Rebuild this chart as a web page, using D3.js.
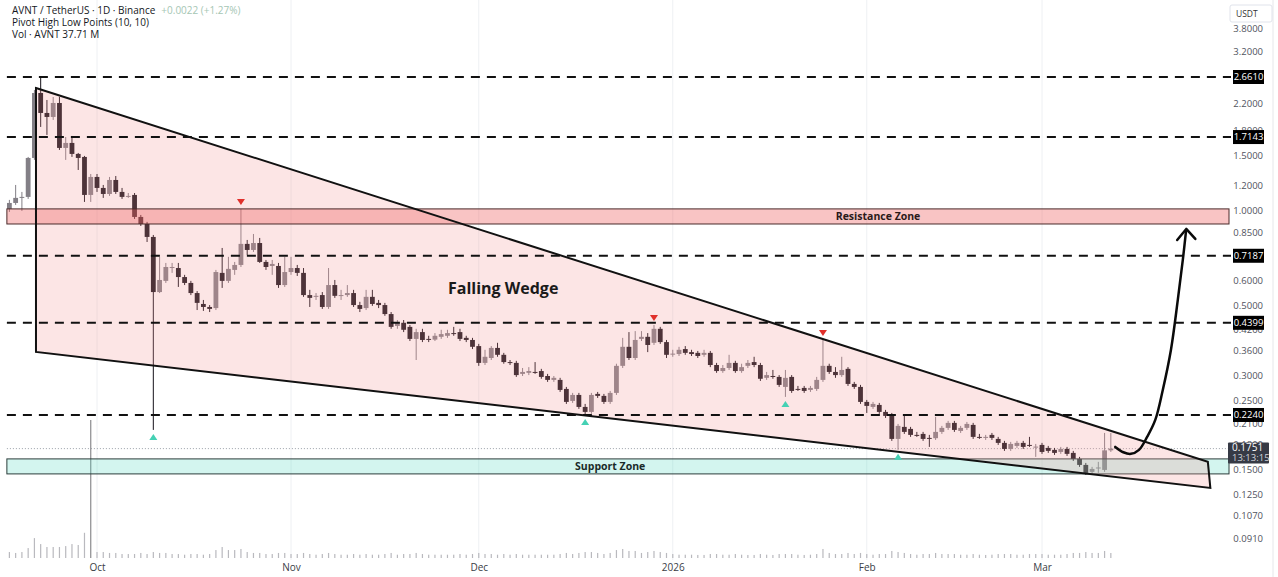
<!DOCTYPE html>
<html>
<head>
<meta charset="utf-8">
<script src="https://cdn.jsdelivr.net/npm/d3@7"></script>
<style>
  body { margin: 0; background: #fff; }
  svg { display: block; font-family: "Open Sans", "Noto Sans", sans-serif; }
</style>
</head>
<body>
<script>
var width = 1278,
    height = 577;

// daily candles, first one is 14 days before Oct 1 2025 (Sep 17)
var firstDay = -14;

var opens = [
  1.013, 1.058, 1.100, 1.106, 1.471, 2.367, 2.045, 1.986, 2.200, 1.583, 1.642, 1.515, 1.482, 1.122,
  1.280, 1.181, 1.130, 1.252, 1.147, 1.110, 1.122, 0.955, 0.907, 0.825,
  0.551, 0.598, 0.657, 0.657, 0.615, 0.589, 0.547, 0.505, 0.494, 0.490,
  0.634, 0.598, 0.648, 0.672, 0.784, 0.750, 0.789, 0.687, 0.667, 0.667,
  0.580, 0.638, 0.657, 0.634, 0.539, 0.532, 0.539, 0.494, 0.580, 0.536,
  0.539, 0.547, 0.501, 0.490, 0.532, 0.509, 0.501, 0.469, 0.430, 0.440,
  0.427, 0.391, 0.411, 0.391, 0.389, 0.397, 0.400, 0.408, 0.411, 0.394,
  0.388, 0.371, 0.328, 0.340, 0.366, 0.348, 0.330, 0.328, 0.3026, 0.305,
  0.307, 0.309, 0.298, 0.2896, 0.2896, 0.2711, 0.2483, 0.2594, 0.2376, 0.2291,
  0.2614, 0.2576, 0.2465, 0.2633, 0.321, 0.369, 0.340, 0.391, 0.397, 0.380,
  0.421, 0.382, 0.350, 0.350, 0.363, 0.355, 0.353, 0.348, 0.353, 0.323,
  0.309, 0.316, 0.328, 0.309, 0.321, 0.330, 0.323, 0.294, 0.298, 0.296,
  0.2751, 0.296, 0.2711, 0.2731, 0.2691, 0.2711, 0.2896, 0.321, 0.307, 0.300,
  0.314, 0.2812, 0.2751, 0.2465, 0.2376, 0.2411, 0.2291, 0.2241, 0.1880, 0.2053,
  0.2023, 0.1936, 0.1950, 0.1894, 0.1890, 0.1979, 0.2038, 0.2114, 0.1993, 0.2038,
  0.2083, 0.1908, 0.1894, 0.1936, 0.1880, 0.1826, 0.1747, 0.1786, 0.1826, 0.1799,
  0.1773, 0.1799, 0.1760, 0.1735, 0.1709, 0.1747, 0.1697, 0.1624, 0.1554, 0.1477,
  0.1520, 0.1498, 0.1729
];
var highs = [
  1.082, 1.207, 1.147, 1.482, 2.420, 2.661, 2.249, 2.299, 2.299, 1.715, 1.728, 1.526, 1.493, 1.308,
  1.308, 1.207, 1.280, 1.289, 1.181, 1.138, 1.138, 0.969, 0.921, 0.837,
  0.713, 0.682, 0.682, 0.682, 0.625, 0.598, 0.555, 0.520, 0.501, 0.648,
  0.761, 0.713, 0.687, 1.013, 0.807, 0.843, 0.819, 0.697, 0.697, 0.682,
  0.713, 0.713, 0.672, 0.657, 0.560, 0.547, 0.551, 0.657, 0.602, 0.560,
  0.580, 0.560, 0.513, 0.560, 0.560, 0.520, 0.509, 0.476, 0.449, 0.449,
  0.433, 0.421, 0.421, 0.400, 0.408, 0.418, 0.418, 0.427, 0.421, 0.400,
  0.394, 0.377, 0.361, 0.371, 0.380, 0.353, 0.335, 0.333, 0.316, 0.318,
  0.330, 0.314, 0.3026, 0.298, 0.294, 0.2751, 0.2633, 0.2633, 0.2429, 0.2633,
  0.2652, 0.2614, 0.2671, 0.326, 0.394, 0.411, 0.414, 0.414, 0.408, 0.433,
  0.427, 0.388, 0.361, 0.369, 0.371, 0.361, 0.358, 0.361, 0.358, 0.328,
  0.323, 0.348, 0.333, 0.326, 0.335, 0.343, 0.328, 0.307, 0.3115, 0.300,
  0.3115, 0.300, 0.2771, 0.2771, 0.2771, 0.296, 0.388, 0.326, 0.318, 0.343,
  0.318, 0.2854, 0.2792, 0.2501, 0.2465, 0.2447, 0.2325, 0.2274, 0.2098, 0.2241,
  0.2053, 0.1979, 0.1979, 0.1936, 0.2209, 0.2068, 0.2145, 0.2145, 0.2068, 0.2129,
  0.2114, 0.1950, 0.1936, 0.1964, 0.1908, 0.1853, 0.1839, 0.1853, 0.1853, 0.1908,
  0.1812, 0.1826, 0.1786, 0.1760, 0.1773, 0.1773, 0.1722, 0.1648, 0.1577, 0.1532,
  0.1589, 0.1964, 0.1964
];
var lows = [
  0.9905, 1.043, 0.998, 1.090, 1.450, 1.846, 1.741, 1.943, 1.560, 1.450, 1.482, 1.347, 1.066, 1.066,
  1.147, 1.098, 1.114, 1.130, 1.090, 1.098, 0.941, 0.894, 0.795, 0.2008,
  0.547, 0.589, 0.634, 0.572, 0.580, 0.539, 0.483, 0.480, 0.476, 0.483,
  0.568, 0.589, 0.625, 0.662, 0.723, 0.739, 0.682, 0.648, 0.625, 0.568,
  0.572, 0.625, 0.620, 0.532, 0.494, 0.520, 0.487, 0.487, 0.528, 0.520,
  0.532, 0.494, 0.476, 0.483, 0.498, 0.490, 0.463, 0.421, 0.421, 0.411,
  0.385, 0.335, 0.382, 0.382, 0.385, 0.391, 0.394, 0.400, 0.385, 0.382,
  0.363, 0.321, 0.323, 0.335, 0.343, 0.326, 0.323, 0.296, 0.298, 0.300,
  0.3026, 0.292, 0.2854, 0.2854, 0.2652, 0.2429, 0.2447, 0.2342, 0.2241, 0.2258,
  0.2538, 0.2429, 0.2429, 0.2594, 0.316, 0.335, 0.335, 0.385, 0.355, 0.374,
  0.377, 0.340, 0.343, 0.345, 0.348, 0.345, 0.340, 0.343, 0.318, 0.305,
  0.305, 0.3115, 0.305, 0.305, 0.316, 0.318, 0.2874, 0.2896, 0.292, 0.2751,
  0.2557, 0.2633, 0.2671, 0.2633, 0.2652, 0.2671, 0.2854, 0.3026, 0.294, 0.296,
  0.2771, 0.2711, 0.2429, 0.2274, 0.2342, 0.2258, 0.2192, 0.1853, 0.1735, 0.1950,
  0.1908, 0.1908, 0.1853, 0.1773, 0.1866, 0.1950, 0.2008, 0.1979, 0.1964, 0.2008,
  0.1880, 0.1880, 0.1866, 0.1866, 0.1799, 0.1722, 0.1722, 0.1760, 0.1747, 0.1773,
  0.1648, 0.1685, 0.1697, 0.1672, 0.1685, 0.1660, 0.1600, 0.1532, 0.1445, 0.1455,
  0.1466, 0.1477, 0.1709
];
var closes = [
  1.058, 1.098, 1.106, 1.471, 2.367, 2.045, 1.986, 2.200, 1.583, 1.642, 1.515, 1.471, 1.122, 1.280,
  1.181, 1.130, 1.252, 1.147, 1.106, 1.114, 0.955, 0.907, 0.825, 0.551,
  0.602, 0.662, 0.662, 0.615, 0.589, 0.547, 0.509, 0.494, 0.487, 0.638,
  0.598, 0.653, 0.672, 0.784, 0.750, 0.789, 0.687, 0.662, 0.677, 0.580,
  0.638, 0.657, 0.634, 0.539, 0.528, 0.536, 0.494, 0.580, 0.536, 0.539,
  0.547, 0.501, 0.487, 0.532, 0.505, 0.501, 0.469, 0.427, 0.440, 0.418,
  0.391, 0.411, 0.388, 0.389, 0.400, 0.405, 0.408, 0.407, 0.391, 0.388,
  0.369, 0.328, 0.343, 0.366, 0.348, 0.330, 0.328, 0.300, 0.307, 0.309,
  0.306, 0.296, 0.2896, 0.294, 0.2691, 0.2465, 0.2594, 0.2376, 0.2291, 0.2594,
  0.2576, 0.2465, 0.2633, 0.321, 0.369, 0.340, 0.388, 0.397, 0.374, 0.421,
  0.382, 0.348, 0.351, 0.361, 0.353, 0.350, 0.345, 0.353, 0.323, 0.309,
  0.316, 0.328, 0.309, 0.318, 0.328, 0.323, 0.292, 0.300, 0.297, 0.2792,
  0.294, 0.2671, 0.2706, 0.2671, 0.2731, 0.2896, 0.321, 0.307, 0.300, 0.3115,
  0.2812, 0.2751, 0.2465, 0.2394, 0.2429, 0.2291, 0.2225, 0.1880, 0.2068, 0.1979,
  0.1936, 0.1930, 0.1880, 0.1890, 0.1979, 0.2038, 0.2114, 0.2008, 0.2038, 0.2098,
  0.1908, 0.1903, 0.1908, 0.1894, 0.1826, 0.1747, 0.1812, 0.1826, 0.1773, 0.1795,
  0.1777, 0.1709, 0.1722, 0.1697, 0.1747, 0.1685, 0.1624, 0.1554, 0.1466, 0.1509,
  0.1525, 0.1729, 0.1751
];
// volume in millions of AVNT
var volumes = [
  45, 38, 45, 75, 150, 105, 83, 83, 83, 90, 105, 98, 190, 1040,
  45, 45, 38, 38, 30, 30, 30, 38, 30, 45,
  38, 38, 30, 30, 25, 30, 30, 25, 30, 60,
  83, 60, 60, 68, 45, 38, 38, 30, 30, 38,
  38, 30, 30, 38, 30, 25, 30, 38, 30, 25,
  25, 30, 25, 30, 25, 25, 30, 38, 25, 30,
  30, 38, 30, 25, 25, 25, 25, 25, 30, 25,
  30, 38, 30, 30, 25, 30, 25, 30, 25, 25,
  25, 25, 25, 25, 30, 38, 30, 38, 45, 45,
  38, 30, 38, 60, 68, 53, 53, 38, 45, 53,
  45, 38, 30, 25, 25, 25, 23, 23, 30, 30,
  25, 25, 30, 25, 23, 23, 30, 25, 23, 30,
  30, 30, 25, 23, 25, 30, 68, 38, 30, 30,
  38, 30, 38, 30, 25, 30, 30, 53, 45, 38,
  30, 25, 30, 30, 38, 30, 30, 30, 25, 25,
  30, 25, 23, 25, 30, 30, 30, 25, 25, 30,
  30, 30, 25, 25, 25, 30, 38, 38, 45, 38,
  38, 53, 37.71
];

var priceTicks = [3.8, 3.2, 2.2, 1.8, 1.5, 1.2, 1.0, 0.85, 0.6, 0.5, 0.42, 0.36, 0.3, 0.25, 0.21, 0.18, 0.15, 0.125, 0.107, 0.091];
var levelPrices = [2.661, 1.7143, 0.7187, 0.4399, 0.2240];
var monthStarts = ["2025-10-01", "2025-11-01", "2025-12-01", "2026-01-01", "2026-02-01", "2026-03-01"];
var monthLabels = ["Oct", "Nov", "Dec", "2026", "Feb", "Mar"];
var resistanceZone = [0.907, 1.013];
var supportZone = [0.1455, 0.1624];
var lastPrice = 0.1751;
var pivotHighDays = [23, 89, 116];
var pivotLowDays = [9, 78, 110, 128];
// drawings: [day offset from Oct 1, price]
var wedgePoints = [[-9.75, 2.455], [177.5, 0.1589], [177.9, 0.1313], [-9.75, 0.3554]];
var arrowPoints = [[162.7, 0.1773], [164.0, 0.1705], [165.2, 0.1685], [166.5, 0.1735], [167.8, 0.1908],
                   [169.1, 0.2160], [170.3, 0.2691], [171.6, 0.3607], [172.7, 0.5201], [173.5, 0.6970], [174.0, 0.8556]];
var arrowHead = [[172.6, 0.807], [174.05, 0.8747], [175.5, 0.8129]];
var zoneStartDay = -14.4;

var upColor = "#837f86", downColor = "#16121a";

function day(d) { return new Date(Date.UTC(2025, 9, 1) + d * 864e5); }

var candles = opens.map(function(o, i) {
  return { date: day(firstDay + i), o: o, h: highs[i], l: lows[i], c: closes[i], v: volumes[i] };
});

var x = d3.scaleUtc()
  .domain([new Date(Date.UTC(2025, 9, 1)), new Date(Date.UTC(2026, 2, 1))])
  .range([97, 1042]);

var y = d3.scaleLog()
  .domain([0.091, 2.661])
  .range([538, 77]);

var yVol = d3.scaleLinear()
  .domain([0, 1040])
  .range([558, 420]);

var plotRight = 1229;

var svg = d3.select("body").append("svg")
  .attr("width", width)
  .attr("height", height);

svg.append("rect").attr("width", width).attr("height", height).attr("fill", "#fff");

// month grid
svg.append("g").selectAll("line")
  .data(monthStarts)
  .enter().append("line")
    .attr("x1", function(d) { return x(new Date(d)); })
    .attr("x2", function(d) { return x(new Date(d)); })
    .attr("y1", 0).attr("y2", 560)
    .attr("stroke", "#eef0f3");

var zx0 = x(day(zoneStartDay));

// current price line
svg.append("line")
  .attr("x1", zx0).attr("x2", plotRight)
  .attr("y1", y(lastPrice)).attr("y2", y(lastPrice))
  .attr("stroke", "#9aa0a8").attr("stroke-dasharray", "1,2");

// volume
svg.append("g").selectAll("rect")
  .data(candles)
  .enter().append("rect")
    .attr("x", function(d) { return x(d.date) - 0.6; })
    .attr("width", 1.2)
    .attr("y", function(d) { return yVol(d.v); })
    .attr("height", function(d) { return yVol(0) - yVol(d.v); })
    .attr("fill", function(d) { return d.v > 500 ? "#8a8a8e" : "#b9b9be"; });

// candles
var candle = svg.append("g").selectAll("g")
  .data(candles)
  .enter().append("g")
    .attr("fill", function(d) { return d.c >= d.o ? upColor : downColor; })
    .attr("stroke", function(d) { return d.c >= d.o ? upColor : downColor; });

candle.append("line")
  .attr("x1", function(d) { return x(d.date); })
  .attr("x2", function(d) { return x(d.date); })
  .attr("y1", function(d) { return y(d.h); })
  .attr("y2", function(d) { return y(d.l); })
  .attr("stroke-width", 1);

candle.append("rect")
  .attr("x", function(d) { return x(d.date) - 2.4; })
  .attr("width", 4.8)
  .attr("y", function(d) { return y(Math.max(d.o, d.c)); })
  .attr("height", function(d) { return Math.max(1, Math.abs(y(d.o) - y(d.c))); })
  .attr("stroke", "none");

// support zone
svg.append("rect")
  .attr("x", zx0).attr("width", plotRight - zx0)
  .attr("y", y(supportZone[1])).attr("height", y(supportZone[0]) - y(supportZone[1]))
  .attr("fill", "rgba(80,215,190,0.25)")
  .attr("stroke", "#2b3d3b").attr("stroke-width", 1);

// wedge fill
var wedgePath = "M" + wedgePoints.map(function(p) { return x(day(p[0])) + "," + y(p[1]); }).join("L") + "Z";
svg.append("path")
  .attr("d", wedgePath)
  .attr("fill", "rgba(245,150,150,0.25)");

// resistance zone
svg.append("rect")
  .attr("x", zx0).attr("width", plotRight - zx0)
  .attr("y", y(resistanceZone[1])).attr("height", y(resistanceZone[0]) - y(resistanceZone[1]))
  .attr("fill", "rgba(240,100,100,0.38)")
  .attr("stroke", "#4a2a2a").attr("stroke-width", 1);

// horizontal levels
svg.append("g").selectAll("line")
  .data(levelPrices)
  .enter().append("line")
    .attr("x1", zx0).attr("x2", plotRight + 2)
    .attr("y1", function(d) { return y(d); })
    .attr("y2", function(d) { return y(d); })
    .attr("stroke", "#111").attr("stroke-width", 2)
    .attr("stroke-dasharray", "9,7");

// wedge outline
svg.append("path")
  .attr("d", wedgePath)
  .attr("fill", "none")
  .attr("stroke", "#111").attr("stroke-width", 2)
  .attr("stroke-linejoin", "miter");

// pivots
var byDay = function(d) { return candles[d - firstDay]; };
svg.append("g").selectAll("path")
  .data(pivotHighDays)
  .enter().append("path")
    .attr("transform", function(d) { return "translate(" + x(day(d)) + "," + (y(byDay(d).h) - 7) + ")"; })
    .attr("d", "M-4,-3L4,-3L0,3Z")
    .attr("fill", "#e0302b");

svg.append("g").selectAll("path")
  .data(pivotLowDays)
  .enter().append("path")
    .attr("transform", function(d) { return "translate(" + x(day(d)) + "," + (y(byDay(d).l) + 7) + ")"; })
    .attr("d", "M-4,3L4,3L0,-3Z")
    .attr("fill", "#45d1b4");

// arrow
var arrowLine = d3.line()
  .x(function(p) { return x(day(p[0])); })
  .y(function(p) { return y(p[1]); })
  .curve(d3.curveCatmullRom);

svg.append("path")
  .attr("d", arrowLine(arrowPoints))
  .attr("fill", "none").attr("stroke", "#0a0a0a").attr("stroke-width", 2.5)
  .attr("stroke-linecap", "round");

svg.append("path")
  .attr("d", d3.line().x(function(p) { return x(day(p[0])); }).y(function(p) { return y(p[1]); })(arrowHead))
  .attr("fill", "none").attr("stroke", "#0a0a0a").attr("stroke-width", 2.5)
  .attr("stroke-linecap", "round").attr("stroke-linejoin", "round");

// labels on drawings
svg.append("text")
  .attr("x", x(day(64.9))).attr("y", y(0.5675))
  .attr("text-anchor", "middle").attr("dy", "0.35em")
  .attr("font-size", 16).attr("font-weight", "bold").attr("fill", "#1a1a1a")
  .text("Falling Wedge");

svg.append("text")
  .attr("x", x(day(124.8))).attr("y", y(Math.sqrt(resistanceZone[0] * resistanceZone[1])))
  .attr("text-anchor", "middle").attr("dy", "0.35em")
  .attr("font-size", 10.5).attr("font-weight", "bold").attr("fill", "#2a1a1a")
  .text("Resistance Zone");

svg.append("text")
  .attr("x", x(day(82))).attr("y", y(Math.sqrt(supportZone[0] * supportZone[1])))
  .attr("text-anchor", "middle").attr("dy", "0.35em")
  .attr("font-size", 10.5).attr("font-weight", "bold").attr("fill", "#1a2a28")
  .text("Support Zone");

// price axis
var yAxis = svg.append("g")
  .attr("transform", "translate(1263,0)")
  .call(d3.axisLeft(y).tickValues(priceTicks).tickFormat(d3.format(".4f")).tickSize(0).tickPadding(0));
yAxis.select(".domain").remove();
yAxis.selectAll("text").attr("font-size", 9.5).attr("fill", "#50535e").attr("font-family", "Open Sans, sans-serif");

svg.append("line")
  .attr("x1", 1273).attr("x2", 1273).attr("y1", 0).attr("y2", height)
  .attr("stroke", "#e6e7ea");

// level price tags
var tags = svg.append("g").selectAll("g")
  .data(levelPrices)
  .enter().append("g")
    .attr("transform", function(d) { return "translate(1233," + y(d) + ")"; });
tags.append("rect")
  .attr("x", 0).attr("y", -7).attr("width", 31).attr("height", 14)
  .attr("fill", "#000");
tags.append("text")
  .attr("x", 15.5).attr("dy", "0.35em").attr("text-anchor", "middle")
  .attr("font-size", 9.5).attr("fill", "#fff")
  .text(function(d) { return d3.format(".4f")(d); });

// last price tag
var last = svg.append("g").attr("transform", "translate(1228," + (y(lastPrice) - 6) + ")");
last.append("rect").attr("width", 41).attr("height", 21).attr("rx", 1).attr("fill", "#363a45");
last.append("text").attr("x", 4).attr("y", 8).attr("font-size", 10).attr("fill", "#fff").text(d3.format(".4f")(lastPrice));
last.append("text").attr("x", 4).attr("y", 18).attr("font-size", 9.5).attr("fill", "#d1d4dc").text("13:13:15");

// currency box
svg.append("rect").attr("x", 1230).attr("y", 5).attr("width", 42).attr("height", 17).attr("rx", 2)
  .attr("fill", "#fff").attr("stroke", "#e0e3eb");
svg.append("text").attr("x", 1236).attr("y", 17).attr("font-size", 8.5).attr("fill", "#333").text("USDT");

// time axis
var xAxis = svg.append("g")
  .attr("transform", "translate(0,564)")
  .call(d3.axisBottom(x)
    .tickValues(monthStarts.map(function(d) { return new Date(d); }))
    .tickFormat(function(d, i) { return monthLabels[i]; })
    .tickSize(0).tickPadding(0));
xAxis.select(".domain").remove();
xAxis.selectAll("text").attr("font-size", 10).attr("fill", "#3a3d45").attr("font-family", "Open Sans, sans-serif");

// header
var header = svg.append("g").attr("font-size", 10).attr("fill", "#131722");
var t1 = header.append("text").attr("x", 12).attr("y", 14);
t1.append("tspan").text("AVNT / TetherUS · 1D · Binance");
t1.append("tspan").attr("dx", 6).attr("fill", "#a5c6b4").text("+0.0022 (+1.27%)");
header.append("text").attr("x", 12).attr("y", 26).text("Pivot High Low Points (10, 10)");
header.append("text").attr("x", 12).attr("y", 38).text("Vol · AVNT  37.71 M");
</script>
</body>
</html>
